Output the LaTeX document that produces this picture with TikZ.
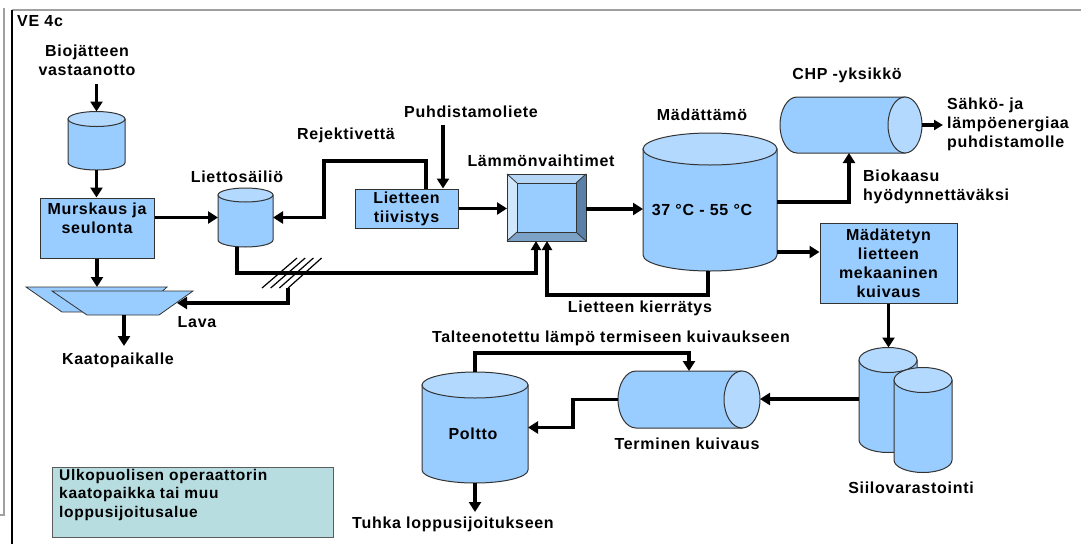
\documentclass[tikz,border=0pt]{standalone}
\usepackage{fontspec}
\setmainfont{Liberation Sans}[LetterSpace=4.5]
\usetikzlibrary{arrows.meta,calc}
\definecolor{fillblue}{HTML}{99CCFF}
\definecolor{topblue}{HTML}{B3D9FF}
\definecolor{edgegray}{HTML}{333333}
\definecolor{boxteal}{HTML}{B7DDE1}
\definecolor{hxL}{HTML}{CFE6FB}
\definecolor{hxT}{HTML}{B5D7F5}
\definecolor{hxR}{HTML}{5B80A8}
\definecolor{hxB}{HTML}{7DA2C8}
\definecolor{framegray}{HTML}{A0A0A0}
\newcommand\lblfont{\fontsize{16}{19}\selectfont\bfseries}
\newcommand\vcyl[6]{%
  \path[cylbody] ({#2-#5},{-(#3)}) -- ({#2-#5},{-(#4)}) arc[start angle=180,end angle=360,x radius=#5,y radius=#6] -- ({#2+#5},{-(#3)}) -- cycle;
  \path[cyltop] (#2,{-(#3)}) ellipse[x radius=#5,y radius=#6];
  \node[ghost,minimum width={2*#5},minimum height={#4-#3+2*#6}] (#1) at (#2,{-(#3+#4)/2}) {};
}
\newcommand\hcyl[6]{%
  \path[cylbody] (#3,{-(#4-#6)}) -- (#2,{-(#4-#6)}) arc[start angle=90,end angle=270,x radius=#5,y radius=#6] -- (#3,{-(#4+#6)}) -- cycle;
  \path[cyltop] (#3,{-(#4)}) ellipse[x radius=#5,y radius=#6];
  \node[ghost,minimum width={#3-#2+2*#5},minimum height={2*#6}] (#1) at ({(#2+#3)/2},{-(#4)}) {};
}
\begin{document}
\begin{tikzpicture}[x=1pt,y=1pt,
  cylbody/.style={fill=fillblue,draw=edgegray,line width=1pt},
  cyltop/.style={fill=topblue,draw=edgegray,line width=1pt},
  ghost/.style={inner sep=0,outer sep=0},
  box/.style={fill=fillblue,draw=edgegray,line width=1pt,inner sep=0},
  lbl/.style={font=\lblfont,align=center,inner sep=0},
  arr/.style={line width=3.2pt,-{Triangle[length=10pt,width=12pt]}},
  arrs/.style={line width=3.2pt,-{Triangle[length=9pt,width=10pt]}},
  hatch/.style={line width=1.2pt}]
\useasboundingbox (0,0) rectangle (1081,-544);
% frame
\draw[framegray,line width=1.6pt] (12,-10) -- (1081,-10);
\draw[framegray,line width=1.3pt] (4,-8) -- (4,-515) -- (0,-515);
\draw[black,line width=1.3pt] (12,-10) -- (12,-544);
\node[lbl,anchor=west] (ve) at (17,-21) {VE 4c};

% cylinders
\vcyl{cyl1}{96.5}{119}{162.5}{28.5}{7.5}
\vcyl{cyl2}{245.5}{195}{240}{27.5}{7}
\vcyl{dig}{710}{149}{255}{67}{16}
\vcyl{poltto}{475}{385}{470}{53}{13}
\vcyl{siloA}{888}{360}{440}{29}{12.5}
\vcyl{siloB}{923}{380}{460}{29}{12.5}
\hcyl{chp}{797}{905}{125}{17}{28}
\hcyl{dryer}{636}{742}{399.5}{18}{28.5}

% boxes
\node[box,minimum width=114,minimum height=60] (murs) at (97,-228) {};
\node[lbl] (mursT) at (97,-218) {Murskaus ja\\seulonta};
\node[box,lbl,minimum width=103,minimum height=39] (tiiv) at (406.5,-208.5) {Lietteen\\tiivistys};
\node[box,lbl,minimum width=137,minimum height=80] (mek) at (888.5,-263) {Mädätetyn\\lietteen\\mekaaninen\\kuivaus};
\node[box,fill=boxteal,draw=edgegray!80,minimum width=281,minimum height=70] (ulko) at (192.5,-502) {};
\node[lbl,align=left,anchor=west,font=\fontsize{15.5}{18.5}\selectfont\bfseries] (ulkoT) at (59,-494.5) {Ulkopuolisen operaattorin\\kaatopaikka tai muu\\loppusijoitusalue};

% heat exchanger
\node[ghost,minimum width=79,minimum height=67] (hx) at (546.5,-207.5) {};
\fill[hxT] (507,-174) -- (586,-174) -- (576,-183) -- (517,-183) -- cycle;
\fill[hxL] (507,-174) -- (517,-183) -- (517,-232) -- (507,-241) -- cycle;
\fill[hxR] (586,-174) -- (586,-241) -- (576,-232) -- (576,-183) -- cycle;
\fill[hxB] (507,-241) -- (586,-241) -- (576,-232) -- (517,-232) -- cycle;
\draw[edgegray,line width=0.8pt] (507,-174) -- (517,-183) (586,-174) -- (576,-183) (586,-241) -- (576,-232) (507,-241) -- (517,-232);
\draw[edgegray,line width=1pt,fill=fillblue] (517,-183) rectangle (576,-232);
\draw[edgegray,line width=1pt] (hx.north west) rectangle (hx.south east);

% lava
\filldraw[fill=fillblue,draw=edgegray,line width=0.8pt] (26,-287) -- (167,-287) -- (140,-312) -- (62,-312) -- cycle;
\filldraw[fill=fillblue,draw=edgegray,line width=0.8pt] (52,-291) -- (193,-291) -- (159,-315) -- (87,-315) -- cycle;
\node[ghost,minimum width=167,minimum height=28] (lava) at (109.5,-301) {};
\coordinate (lavaR) at (177,-303);

% labels
\node[lbl] (bio) at (87,-60) {Biojätteen\\vastaanotto};
\node[lbl] (liettoL) at (237,-177) {Liettosäiliö};
\node[lbl] (rejL) at (346,-135) {Rejektivettä};
\node[lbl] (puhL) at (471,-112) {Puhdistamoliete};
\node[lbl] (lammL) at (541,-161) {Lämmönvaihtimet};
\node[lbl] (madL) at (702,-115) {Mädättämö};
\node[lbl] (chpL) at (847,-75) {CHP -yksikkö};
\node[lbl,align=left,anchor=west] (sahkoL) at (947,-124) {Sähkö- ja\\lämpöenergiaa\\puhdistamolle};
\node[lbl,align=left,anchor=west] (bioL) at (863,-187) {Biokaasu\\hyödynnettäväksi};
\node[lbl] (tempT) at (702,-210) {37 °C - 55 °C};
\node[lbl] (kierL) at (640,-308) {Lietteen kierrätys};
\node[lbl] (lavaL) at (197,-322) {Lava};
\node[lbl] (kaatoL) at (118,-360) {Kaatopaikalle};
\node[lbl] (talL) at (611,-338) {Talteenotettu lämpö termiseen kuivaukseen};
\node[lbl] (termL) at (687,-444) {Terminen kuivaus};
\node[lbl] (siiloL) at (911,-488) {Siilovarastointi};
\node[lbl] (tuhkaL) at (453,-524) {Tuhka loppusijoitukseen};
\node[lbl] (polttoT) at (473,-434) {Poltto};

% connectors
\coordinate (bioS) at (96.5,-84);
\draw[arr] (bioS) -- (cyl1.north);
\draw[arr] (cyl1.south) -- (cyl1.south |- murs.north);
\draw[arr] (murs.east |- cyl2.west) -- (cyl2.west);
\coordinate (rejTop) at (324,-161);
\coordinate (rejStart) at ([xshift=19.5pt]tiiv.north);
\draw[arr] (rejStart) |- (rejTop) |- (cyl2.east);
\coordinate (puhS) at (443,-125);
\draw[arr] (puhS) -- (puhS |- tiiv.north);
\draw[arr] (tiiv.east) -- (tiiv.east -| hx.west);
\draw[arr] (hx.east |- 0,-209) -- (dig.west |- 0,-209);
\coordinate (hxin1) at ([xshift=-10.5pt]hx.south);
\coordinate (hxin2) at ([xshift=0.5pt]hx.south);
\coordinate (lsOut) at ([xshift=-8.5pt]cyl2.south);
\coordinate (digOut) at ([xshift=-2pt]dig.south);
\draw[arrs] (lsOut) |- (hxin1 |- 0,-273) -- (hxin1);
\draw[arrs] (digOut) |- (hxin2 |- 0,-295) -- (hxin2);
% hatch
\foreach \k in {0,1,2,3} \draw[hatch] ({262+8.7*\k},-288) -- ({297+8.2*\k},-258);
\coordinate (hatchEnd) at (288,-288);
\draw[arr] (hatchEnd) |- (lavaR);
\draw[arr] (murs.south) -- (murs.south |- lava.north);
\draw[arr] ([xshift=14.5pt]lava.south) -- ++(0,-31);
\coordinate (chpIn) at ([xshift=-2pt]chp.south);
\draw[arr] (dig.east) -| (chpIn);
\draw[arrs] (chp.east) -- ++(21,0);
\draw[arr] (dig.east |- 0,-252) -- (mek.west |- 0,-252);
\draw[arr] (mek.south) -- (mek.south |- siloA.north);
\draw[arr] (siloA.west |- 0,-399) -- (dryer.east |- 0,-399);
\draw[arr] (dryer.west) -- ++(-45,0) |- (poltto.east);
\draw[arr] (poltto.north) -- ++(0,19) -| (dryer.north);
\draw[arr] (poltto.south) -- ++(0,-29);
\end{tikzpicture}
\end{document}
